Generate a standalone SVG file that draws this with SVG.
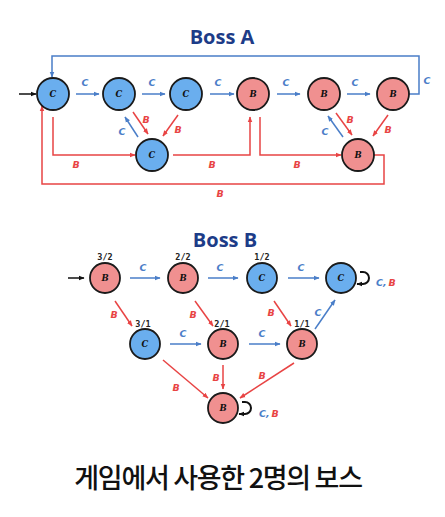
<svg xmlns="http://www.w3.org/2000/svg" width="445" height="517" viewBox="0 0 445 517">
<style>
.title{font-family:"Open Sans","Noto Sans",sans-serif;font-weight:700;font-size:20px;fill:#1d3c88;text-anchor:middle}
.nb{fill:#6aaeee;stroke:#1a1a1a;stroke-width:1.8}
.nr{fill:#f09090;stroke:#1a1a1a;stroke-width:1.8}
.nt{font-family:"DejaVu Serif",serif;font-weight:700;font-style:italic;font-size:8.5px;fill:#111;text-anchor:middle;dominant-baseline:central}
.eb{stroke:#4a7ec8;stroke-width:1.5;fill:none}
.er{stroke:#e84444;stroke-width:1.5;fill:none}
.ek{stroke:#111;stroke-width:1.5;fill:none}
.el{stroke:#111;stroke-width:2;fill:none}
.lb{font-family:"DejaVu Sans",sans-serif;font-weight:700;font-style:italic;font-size:9.5px;fill:#4a7ec8;text-anchor:middle}
.lr{font-family:"DejaVu Sans",sans-serif;font-weight:700;font-style:italic;font-size:9.5px;fill:#e84444;text-anchor:middle}
.fr{font-family:"DejaVu Sans Mono",monospace;font-weight:700;font-size:8.5px;fill:#222;text-anchor:middle}
.foot{font-family:"Noto Sans CJK KR",sans-serif;font-weight:500;font-size:27px;fill:#111;text-anchor:middle;letter-spacing:-1.3px}
</style>
<defs>
<marker id="ab" viewBox="0 0 10 10" refX="9" refY="5" markerWidth="6" markerHeight="6" orient="auto" markerUnits="userSpaceOnUse"><path d="M0,1 L10,5 L0,9 z" fill="#4a7ec8"/></marker>
<marker id="ar" viewBox="0 0 10 10" refX="9" refY="5" markerWidth="6" markerHeight="6" orient="auto" markerUnits="userSpaceOnUse"><path d="M0,1 L10,5 L0,9 z" fill="#e84444"/></marker>
<marker id="ak" viewBox="0 0 10 10" refX="9" refY="5" markerWidth="6" markerHeight="6" orient="auto" markerUnits="userSpaceOnUse"><path d="M0,1 L10,5 L0,9 z" fill="#111"/></marker>
</defs>
<rect width="445" height="517" fill="#ffffff"/>
<text class="title" x="222" y="44">Boss A</text>
<text class="title" x="225" y="247">Boss B</text>

<g id="connectors">
<!-- Boss A -->
<line class="ek" x1="19" y1="94" x2="36" y2="94" marker-end="url(#ak)"/>
<line class="eb" x1="76" y1="94" x2="99" y2="94" marker-end="url(#ab)"/>
<line class="eb" x1="142" y1="94" x2="165" y2="94" marker-end="url(#ab)"/>
<line class="eb" x1="210" y1="94" x2="234" y2="94" marker-end="url(#ab)"/>
<line class="eb" x1="277" y1="94" x2="300" y2="94" marker-end="url(#ab)"/>
<line class="eb" x1="347" y1="94" x2="370" y2="94" marker-end="url(#ab)"/>
<polyline class="eb" points="409,94 419,94 419,56 52,56 52,77" marker-end="url(#ab)"/>
<line class="er" x1="133" y1="112" x2="148" y2="134" marker-end="url(#ar)"/>
<line class="eb" x1="138" y1="137" x2="125" y2="117" marker-end="url(#ab)"/>
<line class="er" x1="178" y1="115" x2="163" y2="136" marker-end="url(#ar)"/>
<polyline class="er" points="53,117 53,155 135,155" marker-end="url(#ar)"/>
<polyline class="er" points="173,155 250,155 250,117" marker-end="url(#ar)"/>
<polyline class="er" points="260,117 260,155 341,155" marker-end="url(#ar)"/>
<line class="er" x1="336" y1="113" x2="352" y2="135" marker-end="url(#ar)"/>
<line class="eb" x1="343" y1="137" x2="328" y2="116" marker-end="url(#ab)"/>
<line class="er" x1="388" y1="115" x2="373" y2="136" marker-end="url(#ar)"/>
<polyline class="er" points="374,155 384,155 384,184 42,184 42,106" marker-end="url(#ar)"/>
<!-- Boss B -->
<line class="ek" x1="68" y1="278" x2="84" y2="278" marker-end="url(#ak)"/>
<line class="eb" x1="130" y1="278" x2="160" y2="278" marker-end="url(#ab)"/>
<line class="eb" x1="208" y1="278" x2="238" y2="278" marker-end="url(#ab)"/>
<line class="eb" x1="288" y1="278" x2="319" y2="278" marker-end="url(#ab)"/>
<line class="er" x1="115" y1="301" x2="132" y2="326" marker-end="url(#ar)"/>
<line class="er" x1="195" y1="301" x2="213" y2="326" marker-end="url(#ar)"/>
<line class="er" x1="274" y1="301" x2="291" y2="326" marker-end="url(#ar)"/>
<line class="eb" x1="315" y1="329" x2="335" y2="300" marker-end="url(#ab)"/>
<line class="eb" x1="170" y1="344" x2="201" y2="344" marker-end="url(#ab)"/>
<line class="eb" x1="249" y1="344" x2="280" y2="344" marker-end="url(#ab)"/>
<line class="er" x1="163" y1="360" x2="208" y2="398" marker-end="url(#ar)"/>
<line class="er" x1="223" y1="365" x2="223" y2="389" marker-end="url(#ar)"/>
<line class="er" x1="294" y1="363" x2="240" y2="398" marker-end="url(#ar)"/>
<path class="el" d="M360,272 L363,272 A6,6 0 0 1 363,284 L357,284" marker-end="url(#ak)"/>
<path class="el" d="M242,402 L245,402 A6,6 0 0 1 245,414 L239,414" marker-end="url(#ak)"/>
</g>

<g id="labels">
<text class="lb" x="85" y="86">C</text>
<text class="lb" x="152" y="86">C</text>
<text class="lb" x="218" y="86">C</text>
<text class="lb" x="286" y="86">C</text>
<text class="lb" x="355" y="86">C</text>
<text class="lb" x="427" y="84">C</text>
<text class="lr" x="146" y="123">B</text>
<text class="lb" x="122" y="135">C</text>
<text class="lr" x="178" y="133">B</text>
<text class="lr" x="76" y="168">B</text>
<text class="lr" x="212" y="168">B</text>
<text class="lr" x="297" y="168">B</text>
<text class="lr" x="350" y="123">B</text>
<text class="lb" x="325" y="135">C</text>
<text class="lr" x="388" y="133">B</text>
<text class="lr" x="220" y="197">B</text>

<text class="lb" x="143" y="271">C</text>
<text class="lb" x="220" y="271">C</text>
<text class="lb" x="301" y="271">C</text>
<text class="lr" x="114" y="318">B</text>
<text class="lr" x="193" y="318">B</text>
<text class="lr" x="271" y="316">B</text>
<text class="lb" x="318" y="316">C</text>
<text class="lb" x="183" y="337">C</text>
<text class="lb" x="262" y="337">C</text>
<text class="lr" x="176" y="391">B</text>
<text class="lr" x="216" y="381">B</text>
<text class="lr" x="262" y="379">B</text>
<text x="376" y="286" style="font-family:'DejaVu Sans',sans-serif;font-weight:700;font-style:italic;font-size:9.5px"><tspan fill="#4a7ec8">C</tspan><tspan fill="#4a7ec8">,</tspan><tspan fill="#e84444" dx="2">B</tspan></text>
<text x="259" y="417" style="font-family:'DejaVu Sans',sans-serif;font-weight:700;font-style:italic;font-size:9.5px"><tspan fill="#4a7ec8">C</tspan><tspan fill="#4a7ec8">,</tspan><tspan fill="#e84444" dx="2">B</tspan></text>
<text class="fr" x="105" y="260">3/2</text>
<text class="fr" x="183" y="260">2/2</text>
<text class="fr" x="262" y="260">1/2</text>
<text class="fr" x="143" y="327">3/1</text>
<text class="fr" x="222" y="327">2/1</text>
<text class="fr" x="302" y="327">1/1</text>
</g>

<g id="a1"><circle class="nb" cx="53" cy="94" r="16"/><text class="nt" x="53" y="94">C</text></g>
<g id="a2"><circle class="nb" cx="119" cy="94" r="16"/><text class="nt" x="119" y="94">C</text></g>
<g id="a3"><circle class="nb" cx="186" cy="94" r="16"/><text class="nt" x="186" y="94">C</text></g>
<g id="a4"><circle class="nr" cx="253" cy="94" r="16"/><text class="nt" x="253" y="94">B</text></g>
<g id="a5"><circle class="nr" cx="324" cy="94" r="16"/><text class="nt" x="324" y="94">B</text></g>
<g id="a6"><circle class="nr" cx="393" cy="94" r="16"/><text class="nt" x="393" y="94">B</text></g>
<g id="a7"><circle class="nb" cx="152" cy="155" r="16"/><text class="nt" x="152" y="155">C</text></g>
<g id="a8"><circle class="nr" cx="358" cy="155" r="16"/><text class="nt" x="358" y="155">B</text></g>

<g id="b32"><circle class="nr" cx="105" cy="278" r="15"/><text class="nt" x="105" y="278">B</text></g>
<g id="b22"><circle class="nr" cx="183" cy="278" r="15"/><text class="nt" x="183" y="278">B</text></g>
<g id="b12"><circle class="nb" cx="262" cy="278" r="15"/><text class="nt" x="262" y="278">C</text></g>
<g id="b02"><circle class="nb" cx="341" cy="278" r="15"/><text class="nt" x="341" y="278">C</text></g>
<g id="b31"><circle class="nb" cx="145" cy="344" r="15"/><text class="nt" x="145" y="344">C</text></g>
<g id="b21"><circle class="nr" cx="223" cy="344" r="15"/><text class="nt" x="223" y="344">B</text></g>
<g id="b11"><circle class="nr" cx="302" cy="344" r="15"/><text class="nt" x="302" y="344">B</text></g>
<g id="b00"><circle class="nr" cx="223" cy="408" r="15"/><text class="nt" x="223" y="408">B</text></g>

<text class="foot" x="218" y="488">게임에서 사용한 2명의 보스</text>
</svg>
